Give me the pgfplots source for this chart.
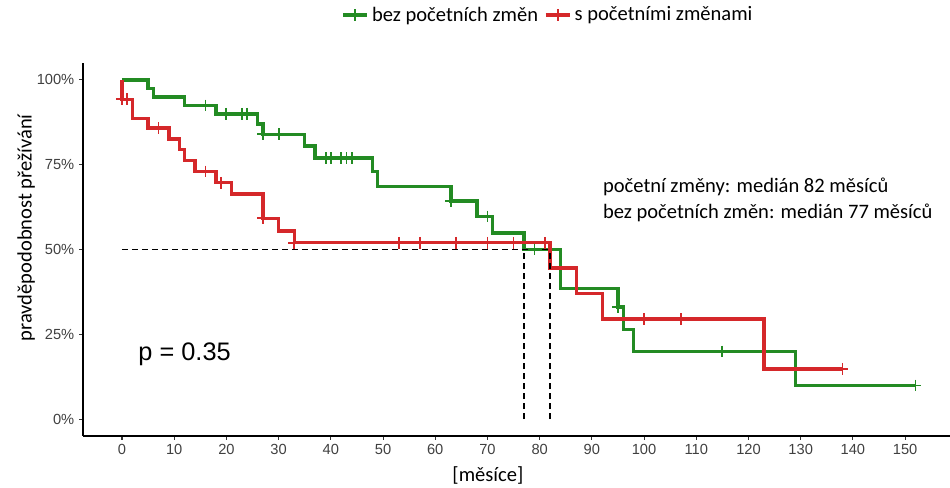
\documentclass[border=0pt]{standalone}
\usepackage{pgfplots}
\pgfplotsset{compat=1.18}
\usepackage{fontspec}
\setmainfont{Liberation Sans}
\newfontfamily\calibri{Carlito}
\newcommand\lab{\calibri\fontsize{15.4}{18}\selectfont}
\definecolor{kmgreen}{RGB}{35,139,35}
\definecolor{kmred}{RGB}{213,40,42}

\begin{document}
\begin{tikzpicture}
\useasboundingbox (0,0) rectangle (712.5pt,366pt);
\begin{axis}[
  at={(62.25pt,39pt)}, anchor=south west,
  scale only axis, width=650.25pt, height=279.75pt,
  xmin=-7.47, xmax=158.6, ymin=-5, ymax=105,
  axis x line*=bottom, axis y line*=left,
  axis line style={-, line width=1.3pt, black},
  xtick={0,10,...,150},
  ytick={0,25,50,75,100},
  yticklabels={0\%,25\%,50\%,75\%,100\%},
  tick align=outside,
  major tick length=3pt,
  tick style={black!80, line width=0.8pt},
  tick label style={font=\fontsize{11}{13}\selectfont, text=black!75},
  /pgf/number format/assume math mode=true,
  xlabel={[měsíce]},
  ylabel={pravděpodobnost přežívání},
  label style={font=\lab},
  xlabel style={at={(axis description cs:0.467,-0.107)}, anchor=center},
  ylabel style={at={(axis description cs:-0.0657,0.558)}, anchor=center},
  legend style={at={(axis description cs:0.537,1.129)}, anchor=center,
    draw=none, fill=none, legend columns=2, font=\lab,
    nodes={inner sep=2.5pt},
    /tikz/every even column/.append style={column sep=2pt}},
  legend image code/.code={\draw[mark repeat=2,mark phase=2,#1]
    plot coordinates {(0pt,0pt) (9pt,0pt) (18pt,0pt)};},
  censor/.style={only marks, mark=+, mark size=4.4pt, mark options={line width=1.4pt}},
]
\addlegendimage{kmgreen, line width=2.5pt, mark=+, mark size=4.4pt, mark options={line width=1.4pt}}
\addlegendentry{bez početních změn}
\addlegendimage{kmred, line width=2.5pt, mark=+, mark size=4.4pt, mark options={line width=1.4pt}}
\addlegendentry{s početními změnami}

% survival curve without numerical changes
\addplot[const plot, kmgreen, line width=2.5pt, forget plot] coordinates {
  (0,100) (5,97.5) (6,95) (12,92.5) (18,90) (26,87) (27,84) (35,80.5)
  (37,77) (48,73) (49,68.6) (63,64.3) (68,59.7) (71,54.9) (77,50)
  (84,38.5) (95,33) (96,26.5) (98,19.9) (129,9.9) (152,9.9)};
\addplot[censor, kmgreen, forget plot] coordinates {
  (16,92.5) (20,90) (23,90) (24,90) (27,84) (30,84)
  (39,77) (40,77) (42,77) (43,77) (44,77)
  (63,64.3) (70,59.7) (79,50) (95,33) (115,19.9) (152,9.9)};

% survival curve with numerical changes
\addplot[const plot, kmred, line width=2.5pt, forget plot] coordinates {
  (0,100) (0,94.3) (2,88.7) (5,85.8) (9,82.6) (11,79.4) (12,76.3)
  (14,73) (18,69.7) (21,66.4) (27,59.2) (30,55.5) (33,52)
  (82,44.5) (87,37) (92,29.5) (123,14.8) (138,14.8)};
\addplot[censor, kmred, forget plot] coordinates {
  (0,94.3) (1,94.3) (7,85.8) (16,73) (19,69.7) (27,59.2)
  (33,52) (53,52) (57,52) (64,52) (70,52) (75,52) (81,52)
  (100,29.5) (107,29.5) (138,14.8)};

% median survival guides
\addplot[black, line width=1.35pt, dash pattern=on 4.5pt off 3pt, forget plot]
  coordinates {(0,50) (82,50)};
\addplot[black, line width=1.35pt, dash pattern=on 4.5pt off 3pt, forget plot]
  coordinates {(77,0) (77,50)};
\addplot[black, line width=1.35pt, dash pattern=on 4.5pt off 3pt, forget plot]
  coordinates {(82,0) (82,50)};

\node[anchor=base west, inner sep=0pt, font=\lab] at (axis cs:92.1,66.9)
  {početní změny: medián 82 měsíců};
\node[anchor=base west, inner sep=0pt, font=\lab] at (axis cs:92.1,59.2)
  {bez početních změn: medián 77 měsíců};
\node[anchor=base west, inner sep=0pt, font=\fontsize{19}{22}\selectfont]
  at (axis cs:3.1,17.4) {p = 0.35};
\end{axis}
\end{tikzpicture}
\end{document}
